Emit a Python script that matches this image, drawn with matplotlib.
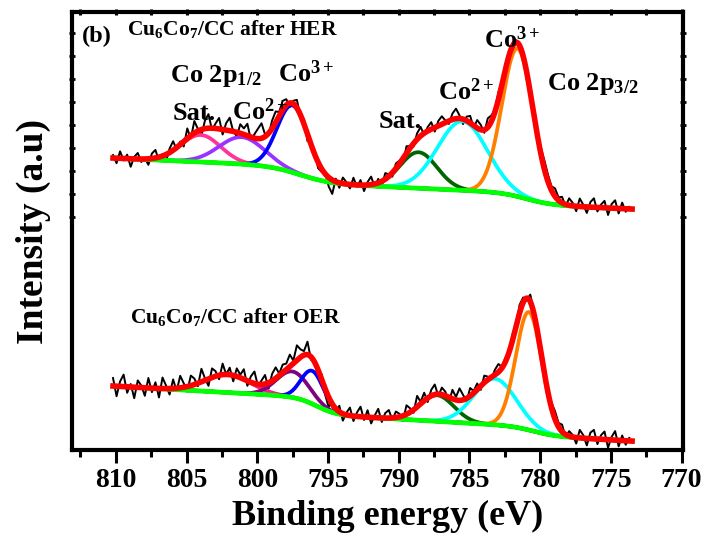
import numpy as np
import matplotlib
matplotlib.use('Agg')
import matplotlib.pyplot as plt
from matplotlib.ticker import MultipleLocator, FixedLocator

plt.rcParams['font.family'] = ['Liberation Serif', 'DejaVu Serif']
plt.rcParams['font.weight'] = 'bold'
plt.rcParams['mathtext.fontset'] = 'custom'
plt.rcParams['mathtext.rm'] = 'Liberation Serif:bold'
plt.rcParams['mathtext.bf'] = 'Liberation Serif:bold'
plt.rcParams['mathtext.it'] = 'Liberation Serif:bold:italic'
plt.rcParams['mathtext.default'] = 'rm'

# ---------------- data ----------------
raw_start = 810.2      # eV, first raw point
raw_step = 0.25        # eV between raw points

# raw-minus-fit residuals (intensity units), HER spectrum
her_residual = [3, -5, 7, -2, 4, -8, 2, 6, -3, 1, -6, 5, 8, -4, 2, -7, 4, 9, -2, 3, -5,
                10, -3, 12, 2, -6, 8, 14, -2, 5, 11, -5, 7, 13, 0, -4, 9, 6, 12, -3, 4, 10, 15, 2, -2, 8, 11, 4, 9,
                6, -4, 3, 8, -2, 5, -7, 2, 4, -6, -3, 1, -9, -14, 3, -5, 6, 2, -4, 7, -2, 5, -6, 3, 8, -3, 4, -5, 6, 2, -4, 5,
                3, -5, 7, 2, -3, 6, 9, -2, 4, 7, -4, 5, 8, 2, -3, 6, 10, 3, -5, 4, 7, -2, 8, 5, -3, 9, 6, 2, 7, 4,
                -3, 5, -6, 2, -4, 3, -7, -2, 4, -5, 6, 9, 7, 4, 8, 3,
                6, -2, 7, 3, -5, 8, 2, -6, 5, 9, -4, 3, 7, -7, 4, 8, -5, 6, -3, 2]
# raw-minus-fit residuals, OER spectrum
oer_residual = [8, -10, 5, 12, -6, 3, -11, 7, 2, -8, 10, -4, 6, -9, 11, 3, -6, 9, -3, 12, 4,
                -5, 10, 6, -3, 13, 2, -7, 9, 5, -4, 11, 0, 7, -6, 8, 3, 10, -5, 6, 12, -2, 4, 9, -6, 7, 11, 2, 8,
                6, 12, 3, 15, 8, 4, 13, -3, 2, -8, 5, -6, -10, 3, -4, 6, -7, 2, 8, -5, 4, 10, -3, 7, -6, 2, 9, -4, 5, 8, -2, 6,
                3, -5, 9, 4, -3, 11, 2, 8, -4, 6, 10, -2, 7, 4, -5, 9, 3, 12, 5, -3, 8, 2, 6, -4, 7, 3, -2, 5, 8, 1,
                4, -3, 6, 2, 8, 5, -2, 7, 3, -4, 2, 6, -3, 5, 8, 4,
                7, -3, 5, 2, -6, 8, 3, -7, 6, 9, -5, 4, 8, -8, 3, 9, -6, 5, -4, 3]

component_names = ['Sat. 2p1/2', 'Co2+ 2p1/2', 'Co3+ 2p1/2', 'Sat. 2p3/2', 'Co2+ 2p3/2', 'Co3+ 2p3/2']

# fitted Gaussian components: centre (eV), height, sigma (eV)
her_centres = [804.0, 801.1, 797.5, 788.6, 785.5, 781.6]
her_heights = [27, 27, 67, 36, 69, 148]
her_sigmas = [1.4, 1.6, 1.1, 1.3, 1.75, 1.1]

oer_centres = [802.1, 797.5, 796.1, 787.3, 783.2, 780.8]
oer_heights = [18, 26, 33, 26, 46, 118]
oer_sigmas = [1.6, 1.15, 0.8, 1.2, 1.5, 0.92]

# background: level at low-BE end, slope, two steps (height, centre, width)
her_bg_level, her_bg_slope = 241, 0.63
her_bg_steps = [11.3, 16.6]
her_bg_step_centres = [781.0, 797.0]
her_bg_step_widths = [0.9, 1.1]

oer_bg_level, oer_bg_slope = 9, 0.8
oer_bg_steps = [8.8, 16.9]
oer_bg_step_centres = [780.5, 795.8]
oer_bg_step_widths = [0.8, 0.7]

her_colors = ['#FF3399', '#9933FF', '#0000FF', '#006400', '#00FFFF', '#FF8000']
oer_colors = ['#FF1493', '#800080', '#0000FF', '#006400', '#00FFFF', '#FF8000']

e_low = 773.6

# ---------------- model helpers ----------------
def background(E, level, slope, steps, centres, widths):
    y = level + slope * (E - e_low)
    for h, c, w in zip(steps, centres, widths):
        y = y + h / (1 + np.exp(-(E - c) / w))
    return y

def gauss(E, c, h, s):
    return h * np.exp(-0.5 * ((E - c) / s) ** 2)

fig = plt.figure(figsize=(7.07, 5.37), dpi=100)
ax = fig.add_axes([72 / 707, 1 - 450 / 537, (683 - 72) / 707, (450 - 12) / 537])

E_fine = np.linspace(raw_start, e_low - 0.1, 800)

def draw(residual, centres, heights, sigmas, colors, bgp):
    bg = background(E_fine, *bgp)
    comps = [gauss(E_fine, c, h, s) for c, h, s in zip(centres, heights, sigmas)]
    env = bg + np.sum(comps, axis=0)
    E_raw = raw_start - raw_step * np.arange(len(residual))
    env_raw = background(E_raw, *bgp) + np.sum(
        [gauss(E_raw, c, h, s) for c, h, s in zip(centres, heights, sigmas)], axis=0)
    ax.plot(E_raw, env_raw + np.array(residual), color='black', lw=1.4, zorder=1)
    for comp, col in zip(comps, colors):
        ax.plot(E_fine, bg + comp, color=col, lw=2.7, zorder=2)
    ax.plot(E_fine, bg, color='#00FF00', lw=3.4, zorder=3)
    ax.plot(E_fine, env, color='#FF0000', lw=4.0, zorder=4)

draw(her_residual, her_centres, her_heights, her_sigmas, her_colors,
     (her_bg_level, her_bg_slope, her_bg_steps, her_bg_step_centres, her_bg_step_widths))
draw(oer_residual, oer_centres, oer_heights, oer_sigmas, oer_colors,
     (oer_bg_level, oer_bg_slope, oer_bg_steps, oer_bg_step_centres, oer_bg_step_widths))

ax.set_xlim(813.1, 769.9)
ax.set_ylim(0, 438)

ax.xaxis.set_major_locator(MultipleLocator(5))
ax.xaxis.set_minor_locator(MultipleLocator(2.5))
ax.yaxis.set_major_locator(FixedLocator(np.arange(233, 430, 23)))
ax.set_yticklabels([])
ax.tick_params(axis='x', which='major', direction='out', length=9, width=2.2,
               labelsize=20, pad=4, top=True)
ax.tick_params(axis='x', which='minor', direction='out', length=5, width=2.2, top=True)
ax.tick_params(axis='y', which='major', direction='inout', length=5, width=2, right=True)
for lab in ax.get_xticklabels():
    lab.set_fontweight('bold')
for t in ax.xaxis.get_major_ticks() + ax.xaxis.get_minor_ticks():
    t.tick2line.set_markersize(5)
    t.tick2line.set_marker('|')
for sp in ax.spines.values():
    sp.set_linewidth(3)

ax.set_xlabel('Binding energy (eV)', fontsize=26, fontweight='bold')
ax.xaxis.set_label_coords(0.517, -0.113)
ax.set_ylabel('Intensity (a.u)', fontsize=27, fontweight='bold', labelpad=9)

kw = dict(fontweight='bold', color='black', zorder=6)
ax.text(812.4, 408, '(b)', fontsize=17.5, **kw)
ax.text(809.2, 415, r'Cu$_{6}$Co$_{7}$/CC after HER', fontsize=15.5, **kw)
ax.text(806.2, 368, r'Co 2p$_{1/2}$', fontsize=19, **kw)
ax.text(798.5, 368, r'Co$^{3+}$', fontsize=19, **kw)
ax.text(806.0, 330, 'Sat.', fontsize=19, **kw)
ax.text(801.8, 330, r'Co$^{2+}$', fontsize=19, **kw)
ax.text(791.45, 322, 'Sat.', fontsize=19, **kw)
ax.text(787.2, 350, r'Co$^{2+}$', fontsize=19, **kw)
ax.text(784.0, 402, r'Co$^{3+}$', fontsize=19, **kw)
ax.text(779.5, 360, r'Co 2p$_{3/2}$', fontsize=19, **kw)
ax.text(809.0, 127, r'Cu$_{6}$Co$_{7}$/CC after OER', fontsize=15.5, **kw)

fig.savefig('out.png', dpi=100)
